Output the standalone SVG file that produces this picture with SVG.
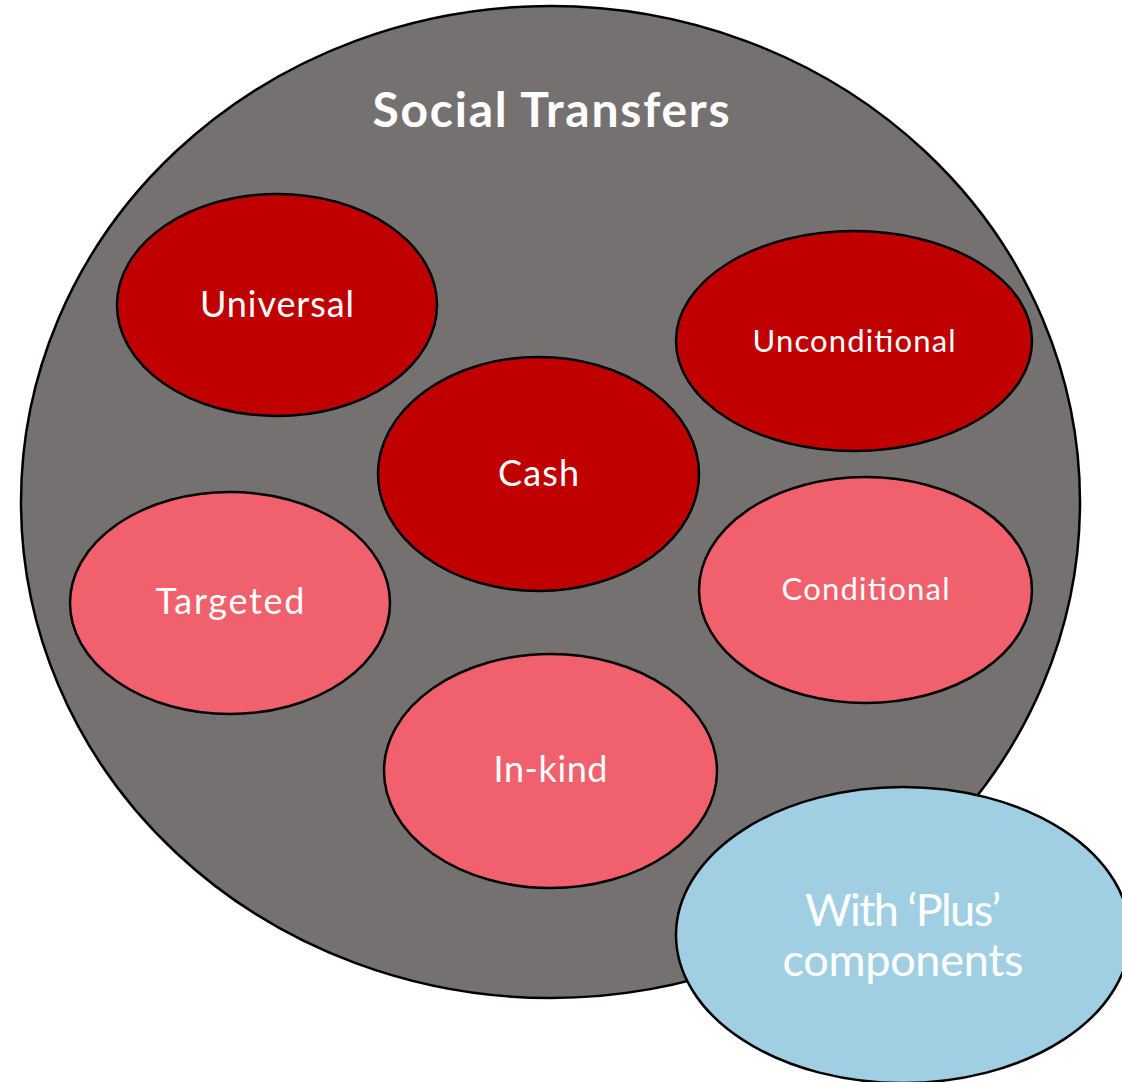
<svg xmlns="http://www.w3.org/2000/svg" width="1122" height="1082" viewBox="0 0 1122 1082">
<style>
.o{stroke:#000;stroke-width:2.5}
.dark{fill:#C00000}
.pink{fill:#F0616D}
.t{fill:#fff;font-family:"Lato","Noto Sans","Liberation Sans",sans-serif;text-anchor:middle;font-weight:400}
</style>
<rect width="1122" height="1082" fill="#fff"/>
<g id="social-transfers">
<ellipse class="o" cx="550.5" cy="502" rx="529.5" ry="496" fill="#767171"/>
<text class="t" x="551" y="127" font-size="48" style="font-weight:bold" textLength="357">Social Transfers</text>
</g>
<g id="universal">
<ellipse class="o dark" cx="277" cy="305" rx="160" ry="111"/>
<text class="t" x="277" y="317" font-size="36" textLength="154">Universal</text>
</g>
<g id="unconditional">
<ellipse class="o dark" cx="854" cy="341" rx="178" ry="110"/>
<text class="t" x="854" y="352" font-size="31" textLength="203">Unconditional</text>
</g>
<g id="cash">
<ellipse class="o dark" cx="538.5" cy="474" rx="160.5" ry="117"/>
<text class="t" x="538.5" y="486" font-size="36" textLength="81">Cash</text>
</g>
<g id="targeted">
<ellipse class="o pink" cx="230" cy="603" rx="160" ry="111"/>
<text class="t" x="230" y="614" font-size="36" textLength="149">Targeted</text>
</g>
<g id="conditional">
<ellipse class="o pink" cx="865.5" cy="590" rx="166.5" ry="113"/>
<text class="t" x="865.5" y="600" font-size="31" textLength="168">Conditional</text>
</g>
<g id="in-kind">
<ellipse class="o pink" cx="550.5" cy="771" rx="166.5" ry="117"/>
<text class="t" x="550.5" y="782" font-size="36" textLength="114">In-kind</text>
</g>
<g id="plus">
<ellipse class="o" cx="903" cy="935" rx="227" ry="148" fill="#A0CFE4"/>
<text class="t" x="903" y="926" font-size="45" textLength="196">With ‘Plus’</text>
<text class="t" x="903" y="976" font-size="45" textLength="241">components</text>
</g>
<g id="connectors"/>
</svg>
